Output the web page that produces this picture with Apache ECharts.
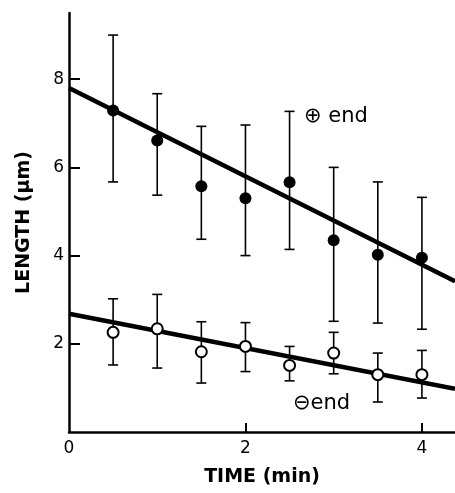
<!DOCTYPE html>
<html>
<head>
<meta charset="utf-8">
<script src="https://cdn.jsdelivr.net/npm/echarts@6/dist/echarts.min.js"></script>
<style>
  html, body { margin: 0; padding: 0; background: #fff; }
  #chart { width: 455px; height: 493px; }
</style>
</head>
<body>
<div id="chart"></div>
<script>
// time points (min)
var times = [0.5, 1, 1.5, 2, 2.5, 3, 3.5, 4];

// plus end: mean, lower, upper
var plusMean = [7.29, 6.61, 5.57, 5.30, 5.66, 4.35, 4.02, 3.95];
var plusLow  = [5.67, 5.37, 4.37, 4.00, 4.14, 2.51, 2.47, 2.33];
var plusHigh = [9.00, 7.67, 6.93, 6.96, 7.27, 6.00, 5.67, 5.32];

// minus end: mean, lower, upper
var minusMean = [2.26, 2.34, 1.82, 1.94, 1.51, 1.79, 1.30, 1.30];
var minusLow  = [1.52, 1.45, 1.11, 1.37, 1.16, 1.32, 0.68, 0.77];
var minusHigh = [3.02, 3.12, 2.50, 2.48, 1.94, 2.26, 1.79, 1.85];

// fitted lines (start / end of visible range)
var fitX = [0, 4.375];
var plusFit = [7.80, 3.42];
var minusFit = [2.68, 0.98];

var yLabels = [0, 2, 4, 6, 8];
var xLabels = [0, 2, 4];

var chart = echarts.init(document.getElementById('chart'));

function zip(xs, ys) {
  return xs.map(function (x, i) { return [x, ys[i]]; });
}
function errData(lo, hi) {
  return times.map(function (t, i) { return [t, lo[i], hi[i]]; });
}
function renderErr(params, api) {
  var x = api.value(0);
  var lo = api.coord([x, api.value(1)]);
  var hi = api.coord([x, api.value(2)]);
  var w = 5;
  var style = { stroke: '#000', lineWidth: 1.6 };
  return {
    type: 'group',
    children: [
      { type: 'line', shape: { x1: lo[0], y1: lo[1], x2: hi[0], y2: hi[1] }, style: style },
      { type: 'line', shape: { x1: lo[0] - w, y1: lo[1], x2: lo[0] + w, y2: lo[1] }, style: style },
      { type: 'line', shape: { x1: hi[0] - w, y1: hi[1], x2: hi[0] + w, y2: hi[1] }, style: style }
    ]
  };
}

var font = 'DejaVu Sans';

chart.setOption({
  animation: false,
  backgroundColor: '#fff',
  grid: { left: 69, right: 0, top: 13, bottom: 61 },
  xAxis: {
    type: 'value',
    min: 0,
    max: 4.375,
    interval: 1,
    name: 'TIME (min)',
    nameLocation: 'middle',
    nameGap: 36,
    nameTextStyle: { fontFamily: font, fontSize: 19, fontWeight: 'bold', color: '#000' },
    axisLine: { lineStyle: { color: '#000', width: 2.5 } },
    axisTick: { inside: true, length: 9, customValues: [2, 4], lineStyle: { color: '#000', width: 2 } },
    axisLabel: { customValues: xLabels, margin: 8, fontFamily: font, fontSize: 17, color: '#000' },
    splitLine: { show: false }
  },
  yAxis: {
    type: 'value',
    min: 0,
    max: 9.5,
    interval: 2,
    name: 'LENGTH (\u03bcm)',
    nameLocation: 'middle',
    nameGap: 35,
    nameTextStyle: { fontFamily: font, fontSize: 19, fontWeight: 'bold', color: '#000' },
    axisLine: { show: true, lineStyle: { color: '#000', width: 2.5 } },
    axisTick: { show: true, inside: true, length: 11, customValues: [2, 4, 6, 8], lineStyle: { color: '#000', width: 2 } },
    axisLabel: { customValues: yLabels, margin: 5, fontFamily: font, fontSize: 17, color: '#000',
      formatter: function (v) { return v === 0 ? '' : String(v); } },
    splitLine: { show: false }
  },
  graphic: [
    { type: 'text', left: 304, top: 106, style: { text: '\u2295 end', font: '21px "DejaVu Sans"', fill: '#000' } },
    { type: 'text', left: 293, top: 393, style: { text: '\u2296end', font: '21px "DejaVu Sans"', fill: '#000' } }
  ],
  series: [
    { type: 'line', data: zip(fitX, plusFit), symbol: 'none', lineStyle: { color: '#000', width: 4.5 }, z: 1 },
    { type: 'line', data: zip(fitX, minusFit), symbol: 'none', lineStyle: { color: '#000', width: 4.5 }, z: 1 },
    { type: 'custom', data: errData(plusLow, plusHigh), renderItem: renderErr, z: 2 },
    { type: 'custom', data: errData(minusLow, minusHigh), renderItem: renderErr, z: 2 },
    { type: 'scatter', data: zip(times, plusMean), symbol: 'circle', symbolSize: 12,
      itemStyle: { color: '#000', opacity: 1 }, z: 3 },
    { type: 'scatter', data: zip(times, minusMean), symbol: 'circle', symbolSize: 11,
      itemStyle: { color: '#fff', borderColor: '#000', borderWidth: 2, opacity: 1 }, z: 3 }
  ]
});
</script>
</body>
</html>
